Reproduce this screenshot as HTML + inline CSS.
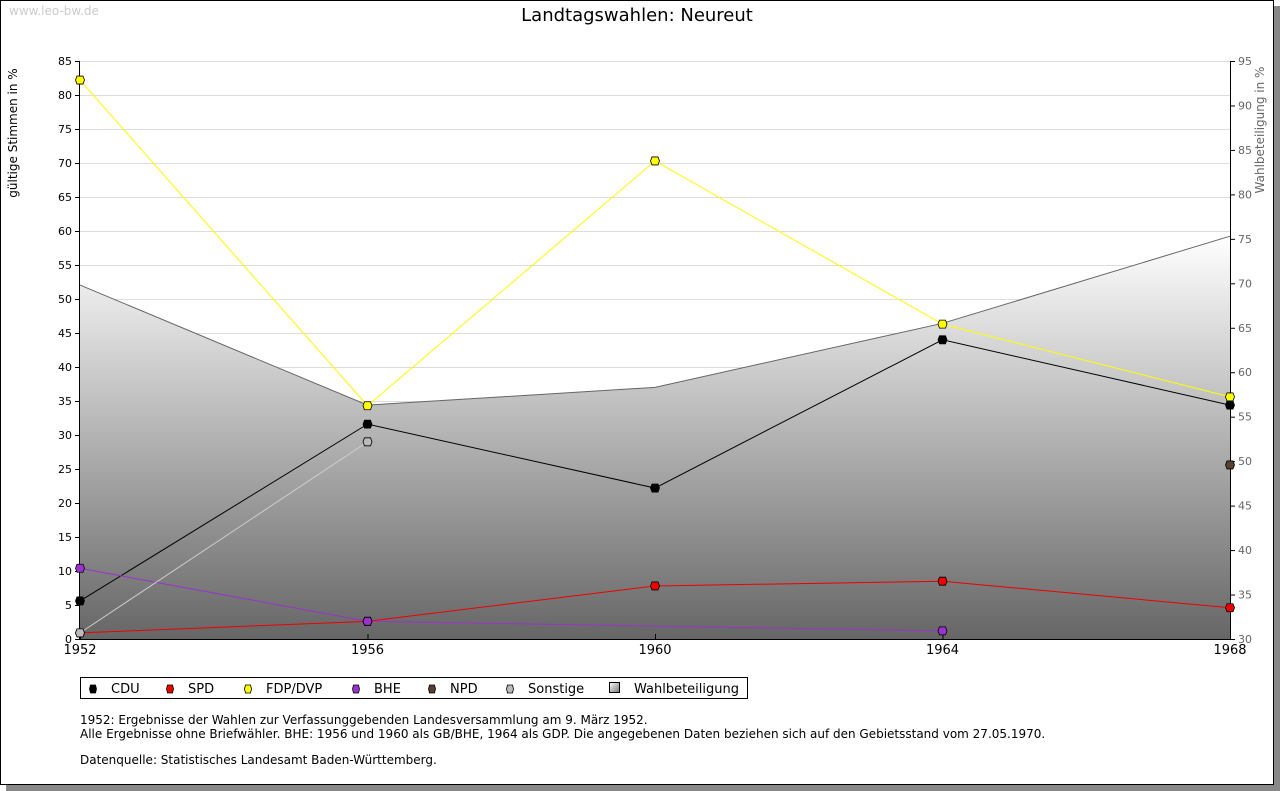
<!DOCTYPE html>
<html><head><meta charset="utf-8"><style>
body{margin:0;background:#fff;font-family:"DejaVu Sans","Liberation Sans",sans-serif;}
#wrap{position:relative;width:1280px;height:791px;overflow:hidden;background:#fff}
</style></head><body>
<div id="wrap">
<svg id="c" width="1280" height="791" xmlns="http://www.w3.org/2000/svg" font-family="DejaVu Sans, Liberation Sans, sans-serif">
<defs>
<linearGradient id="g" x1="0" y1="0" x2="0" y2="1">
<stop offset="0" stop-color="#ffffff"/><stop offset="1" stop-color="#666666"/>
</linearGradient>
<linearGradient id="lg" x1="0" y1="0" x2="1" y2="1">
<stop offset="0" stop-color="#fff"/><stop offset="1" stop-color="#777"/>
</linearGradient>
</defs>
<rect x="6" y="6" width="1274" height="785" fill="#888"/>
<rect x="0.5" y="0.5" width="1273" height="784" fill="#fff" stroke="#000"/>
<text x="9" y="15" font-size="12" fill="#ccc">www.leo-bw.de</text>
<text x="637" y="21" font-size="18" text-anchor="middle">Landtagswahlen: Neureut</text>
<text transform="translate(17,133) rotate(-90)" font-size="12" text-anchor="middle">gültige Stimmen in %</text>
<text transform="translate(1264,130) rotate(-90)" font-size="12" text-anchor="middle" fill="#666">Wahlbeteiligung in %</text>
<g id="plot"></g>
<g>
<rect x="80.5" y="677.5" width="667" height="21" fill="#fff" stroke="#000"/>
<g id="leg"></g>
</g>
<text font-size="12"><tspan x="80" y="724">1952: Ergebnisse der Wahlen zur Verfassunggebenden Landesversammlung am 9. März 1952.</tspan><tspan x="80" y="738">Alle Ergebnisse ohne Briefwähler. BHE: 1956 und 1960 als GB/BHE, 1964 als GDP. Die angegebenen Daten beziehen sich auf den Gebietsstand vom 27.05.1970.</tspan><tspan x="80" y="764">Datenquelle: Statistisches Landesamt Baden-Württemberg.</tspan></text>
</svg>
</div>
<script>
const years=[1952,1956,1960,1964,1968];
const cdu=[5.6,31.6,22.2,44.0,34.4];
const spd=[0.9,2.6,7.8,8.5,4.6];
const fdp=[82.2,34.3,70.3,46.3,35.6];
const bhe=[10.4,2.6,null,1.2,null];
const npd=[null,null,null,null,25.6];
const sonstige=[0.9,29.0,null,null,null];
const turnout=[69.8,56.3,58.3,65.5,75.3];
const leftTicks=[0,5,10,15,20,25,30,35,40,45,50,55,60,65,70,75,80,85];
const rightTicks=[30,35,40,45,50,55,60,65,70,75,80,85,90,95];

const NS="http://www.w3.org/2000/svg";
const X0=80,X1=1230,Y0=639,Y1=61;
const xS=v=>X0+(v-1952)/(1968-1952)*(X1-X0);
const yL=v=>Y0-(v-0)/85*(Y0-Y1);
const yR=v=>Y0-(v-30)/65*(Y0-Y1);
const plot=document.getElementById('plot');
function mk(tag,attrs,parent){const e=document.createElementNS(NS,tag);for(const k in attrs)e.setAttribute(k,attrs[k]);(parent||plot).appendChild(e);return e;}

// gridlines
leftTicks.forEach(t=>{
  const l=mk('line',{x1:X0,x2:X1,y1:yL(t)+.5,y2:yL(t)+.5,stroke:'#ddd'});
  
  
});
// turnout area
let d='M'+xS(years[0])+','+Y0;
years.forEach((y,i)=>{d+=' L'+xS(y)+','+yR(turnout[i]);});
d+=' L'+xS(years[years.length-1])+','+Y0+' Z';
const area=mk('path',{d:d,fill:'url(#g)'});


const tl=mk('polyline',{points:years.map((y,i)=>xS(y)+','+yR(turnout[i])).join(' '),fill:'none',stroke:'#666'});


// axes
mk('line',{x1:X0-.5,x2:X0-.5,y1:Y1,y2:Y0,stroke:'#000'});
mk('line',{x1:X1+.5,x2:X1+.5,y1:Y1,y2:Y0,stroke:'#000'});
mk('line',{x1:X0,x2:X1,y1:Y0+.5,y2:Y0+.5,stroke:'#000'});
leftTicks.forEach(t=>{
  mk('line',{x1:X0-5,x2:X0,y1:yL(t)+.5,y2:yL(t)+.5,stroke:'#000'});
  const tx=mk('text',{x:X0-8,y:yL(t)+4,'font-size':11,'text-anchor':'end'});tx.textContent=t;
  
  
});
rightTicks.forEach(t=>{
  mk('line',{x1:X1,x2:X1+5,y1:yR(t)+.5,y2:yR(t)+.5,stroke:'#000'});
  const tx=mk('text',{x:X1+8,y:yR(t)+4,'font-size':11,fill:'#666'});tx.textContent=t;
  
  
});
years.forEach(y=>{
  mk('line',{x1:xS(y)+.5,x2:xS(y)+.5,y1:Y0-5,y2:Y0,stroke:'#000'});
  const tx=mk('text',{x:xS(y),y:Y0+15,'font-size':13,'text-anchor':'middle'});tx.textContent=y;
  
  
});
// series
const series=[
 ['cdu',cdu,'#000','#000'],['spd',spd,'#e00','#e00'],['fdp',fdp,'#ffff00','#ffff00'],
 ['bhe',bhe,'#9933cc','#9933cc'],['npd',npd,'#5a4030','#5a4030'],['sonstige',sonstige,'#ccc','#bbb']];
series.forEach(([name,vals,line,fill])=>{
  const pts=[];vals.forEach((v,i)=>{if(v!==null)pts.push(xS(years[i])+','+yL(v));});
  if(pts.length>1){const p=mk('polyline',{points:pts.join(' '),fill:'none',stroke:line,'stroke-width':1});
    
    }
  vals.forEach((v,i)=>{if(v===null)return;
    const cx=xS(years[i]),cy=yL(v);
    const m=mk('path',{d:`M${cx-4.5},${cy} L${cx-3},${cy-4} L${cx+3},${cy-4} L${cx+4.5},${cy} L${cx+3},${cy+4} L${cx-3},${cy+4} Z`,fill:fill,stroke:'#000','stroke-width':0.8});
    
    
  });
});
// legend
const leg=document.getElementById('leg');
const items=[['CDU','#000',93],['SPD','#e00',170],['FDP/DVP','#ffff00',248],['BHE','#9933cc',356],['NPD','#5a4030',432],['Sonstige','#bbb',510]];
items.forEach(([lab,c,x])=>{
  const m=mk('path',{d:`M${x-3.5},689 L${x-2.5},685 L${x+2.5},685 L${x+3.5},689 L${x+2.5},693 L${x-2.5},693 Z`,fill:c,stroke:'#000','stroke-width':.8},leg);
  
  
  const t=mk('text',{x:x+18,y:693,'font-size':13},leg);t.textContent=lab;
  
  
});
const sq=mk('rect',{x:609.5,y:682.5,width:10,height:10,fill:'url(#lg)',stroke:'#000'},leg);


const wt=mk('text',{x:634,y:693,'font-size':13},leg);wt.textContent='Wahlbeteiligung';


</script>
</body></html>
